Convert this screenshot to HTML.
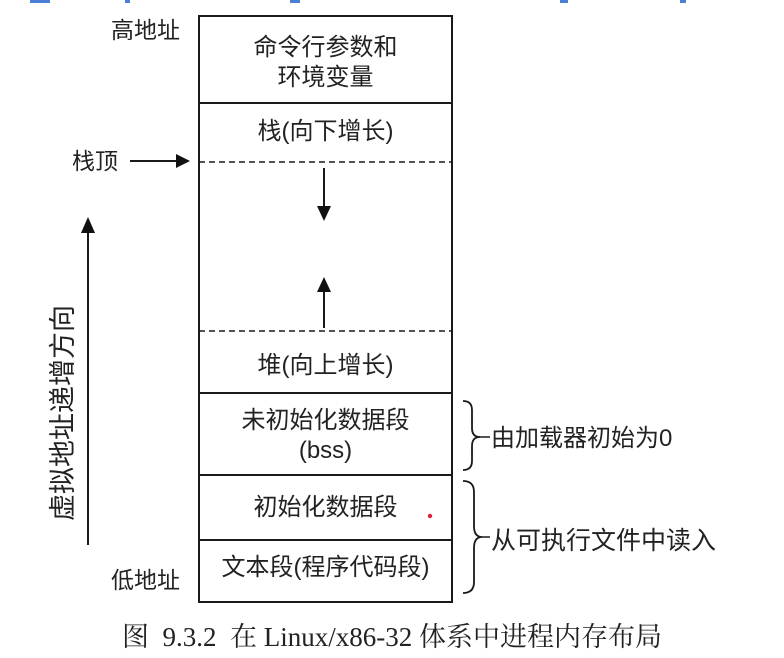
<!DOCTYPE html>
<html><head><meta charset="utf-8"><style>
body{margin:0;background:#fff;width:784px;height:658px;overflow:hidden;position:relative;font-family:"Liberation Sans","Noto Sans CJK SC",sans-serif;color:#222}
.t{position:absolute;font-size:23px;line-height:30px;white-space:nowrap}
.c{text-align:center;width:253px;left:199px;font-size:24px}
</style></head><body>
<svg width="784" height="658" style="position:absolute;left:0;top:0">
<g stroke="#1a1a1a" stroke-width="2" fill="none">
<rect x="199" y="16" width="253" height="586"/>
<line x1="199" y1="103" x2="452" y2="103"/>
<line x1="199" y1="393" x2="452" y2="393"/>
<line x1="199" y1="475" x2="452" y2="475"/>
<line x1="199" y1="540" x2="452" y2="540"/>
<line x1="199" y1="162" x2="452" y2="162" stroke-dasharray="6,4" stroke-width="1.5"/>
<line x1="199" y1="331" x2="452" y2="331" stroke-dasharray="6,4" stroke-width="1.5"/>
<line x1="324" y1="168" x2="324" y2="208"/>
<line x1="324" y1="290" x2="324" y2="328"/>
<line x1="130" y1="161" x2="178" y2="161"/>
<line x1="88" y1="545" x2="88" y2="230"/>
<path d="M463 401 Q472 401 472 410 L472 428 Q472 437 480 437 Q472 437 472 446 L472 461 Q472 470 463 470" stroke-width="1.8"/>
<path d="M463 481 Q474 481 474 492 L474 526 Q474 537 482 537 Q474 537 474 548 L474 582 Q474 593 463 593" stroke-width="1.8"/>
<line x1="480" y1="437" x2="490" y2="437" stroke-width="1.5"/>
<line x1="482" y1="537" x2="490" y2="537" stroke-width="1.5"/>
</g>
<g fill="#111">
<polygon points="317,206 331,206 324,221"/>
<polygon points="317,292 331,292 324,277"/>
<polygon points="176,154 176,168 190,161"/>
<polygon points="81,233 95,233 88,217"/>
</g>
<circle cx="430" cy="516" r="2.2" fill="#e0203a"/>
<g fill="#4a7fd6"><rect x="30" y="0" width="20" height="3"/><rect x="125" y="0" width="5" height="3"/><rect x="290" y="0" width="10" height="3"/><rect x="560" y="0" width="8" height="3"/><rect x="680" y="0" width="6" height="3"/></g>
</svg>
<div class="t" style="left:111px;top:15px">高地址</div>
<div class="t c" style="top:33px">命令行参数和<br>环境变量</div>
<div class="t c" style="top:117px">栈(向下增长)</div>
<div class="t" style="left:72px;top:146px">栈顶</div>
<div class="t c" style="top:351px">堆(向上增长)</div>
<div class="t c" style="top:406px">未初始化数据段<br>(bss)</div>
<div class="t c" style="top:493px">初始化数据段</div>
<div class="t c" style="top:553px">文本段(程序代码段)</div>
<div class="t" style="left:111px;top:565px">低地址</div>
<div class="t" style="left:491px;top:424px;font-size:24px">由加载器初始为0</div>
<div class="t" style="left:491px;top:526px;font-size:25px">从可执行文件中读入</div>
<div class="t" style="left:-52px;top:398px;width:230px;text-align:center;transform:rotate(-90deg);font-size:27px">虚拟地址递增方向</div>
<div class="t" style="left:0;width:784px;text-align:center;top:622px;font-family:'Liberation Serif','Noto Serif CJK SC',serif;font-size:27px">图&nbsp; 9.3.2&nbsp; 在 Linux/x86-32 体系中进程内存布局</div>
</body></html>
